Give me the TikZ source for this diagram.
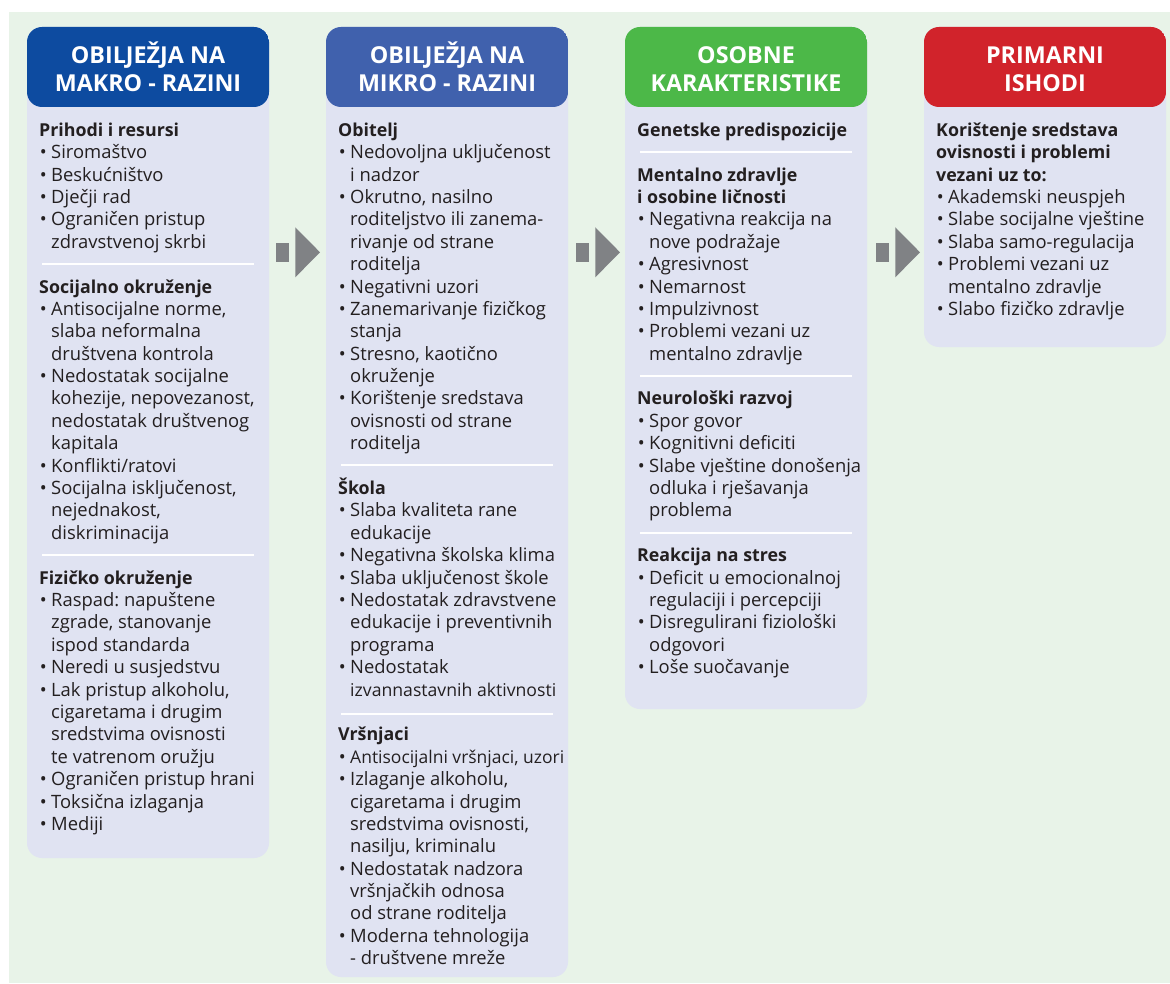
\documentclass[tikz,border=0pt]{standalone}
\usepackage{fontspec}
\setmainfont{Open Sans}
\frenchspacing
\definecolor{bgc}{HTML}{E8F3E8}
\definecolor{bodyc}{HTML}{E0E3F2}
\definecolor{hdA}{HTML}{0D4BA0}
\definecolor{hdB}{HTML}{4061AD}
\definecolor{hdC}{HTML}{4CB848}
\definecolor{hdD}{HTML}{D1232B}
\definecolor{arrc}{HTML}{808285}
\definecolor{txt}{HTML}{231F20}
\newcommand{\lineH}[4]{\node[lh] (#1) at (#2,{136.3+#3*22.39}) {#4};}
\newcommand{\lineB}[4]{\node[lt] (#1) at ({#2+12},{136.3+#3*22.39}) {\llap{•\hspace{4.5pt}}#4};}
\newcommand{\lineC}[4]{\node[lt] (#1) at ({#2+12},{136.3+#3*22.39}) {#4};}
\newcommand{\lineS}[2]{\draw[sepl] ({#1+3},{129.5+#2*22.39}) -- ({#1+215},{129.5+#2*22.39});}
\tikzset{
  colbox/.style={rectangle, rounded corners=15pt, fill=bodyc, inner sep=0pt, outer sep=0pt, minimum width=242pt},
  hdfill/.style={path picture={\fill[#1] (path picture bounding box.north west) rectangle ([yshift=-80pt]path picture bounding box.north east);}},
  hdtext/.style={anchor=base, inner sep=0pt, text=white, font=\fontsize{23.3}{28}\selectfont\bfseries},
  lh/.style={anchor=base west, inner sep=0pt, text=txt, font=\fontsize{17.8}{20}\selectfont\bfseries\frenchspacing},
  lt/.style={anchor=base west, inner sep=0pt, text=txt, font=\fontsize{18.4}{20}\selectfont\frenchspacing},
  sepl/.style={white, line width=2pt},
  arrw/.style={fill=arrc}
}
\begin{document}
\begin{tikzpicture}[x=1pt,y=-1pt]
\useasboundingbox (0,0) rectangle (1170,984);
\fill[bgc] (9,12) rectangle (1170,983);
% columns
\node[colbox, minimum height=831pt, hdfill=hdA] (K1) at (148,442.5) {};
\node[colbox, minimum height=950pt, hdfill=hdB] (K2) at (447,502) {};
\node[colbox, minimum height=682pt, hdfill=hdC] (K3) at (746,368) {};
\node[colbox, minimum height=320pt, hdfill=hdD] (K4) at (1045,187) {};
% headers
\node[hdtext] (H1a) at (148,64) {OBILJEŽJA NA};
\node[hdtext] (H1b) at (148,92) {MAKRO - RAZINI};
\node[hdtext] (H2a) at (447,64) {OBILJEŽJA NA};
\node[hdtext] (H2b) at (447,92) {MIKRO - RAZINI};
\node[hdtext] (H3a) at (746,64) {OSOBNE};
\node[hdtext] (H3b) at (746,92) {KARAKTERISTIKE};
\node[hdtext] (H4a) at (1045,64) {PRIMARNI};
\node[hdtext] (H4b) at (1045,92) {ISHODI};
% arrows
\foreach \dx in {0,300,600}{
  \fill[arrw] ({276+\dx},242.7) rectangle ({289+\dx},261.7);
  \fill[arrw] ({295.3+\dx},227.3) -- ({320+\dx},252.3) -- ({295.3+\dx},277.3) -- cycle;
}
% column 1
\lineH{a0}{39}{0}{Prihodi i resursi}
\lineB{a1}{39}{1}{Siromaštvo}
\lineB{a2}{39}{2}{Beskućništvo}
\lineB{a3}{39}{3}{Dječji rad}
\lineB{a4}{39}{4}{Ograničen pristup}
\lineC{a5}{39}{5}{zdravstvenoj skrbi}
\lineS{39}{6}
\lineH{a7}{39}{7}{Socijalno okruženje}
\lineB{a8}{39}{8}{Antisocijalne norme,}
\lineC{a9}{39}{9}{slaba neformalna}
\lineC{a10}{39}{10}{društvena kontrola}
\lineB{a11}{39}{11}{Nedostatak socijalne}
\lineC{a12}{39}{12}{kohezije, nepovezanost,}
\lineC{a13}{39}{13}{nedostatak društvenog}
\lineC{a14}{39}{14}{kapitala}
\lineB{a15}{39}{15}{Konflikti/ratovi}
\lineB{a16}{39}{16}{Socijalna isključenost,}
\lineC{a17}{39}{17}{nejednakost,}
\lineC{a18}{39}{18}{diskriminacija}
\lineS{39}{19}
\lineH{a20}{39}{20}{Fizičko okruženje}
\lineB{a21}{39}{21}{Raspad: napuštene}
\lineC{a22}{39}{22}{zgrade, stanovanje}
\lineC{a23}{39}{23}{ispod standarda}
\lineB{a24}{39}{24}{Neredi u susjedstvu}
\lineB{a25}{39}{25}{Lak pristup alkoholu,}
\lineC{a26}{39}{26}{cigaretama i drugim}
\lineC{a27}{39}{27}{sredstvima ovisnosti}
\lineC{a28}{39}{28}{te vatrenom oružju}
\lineB{a29}{39}{29}{Ograničen pristup hrani}
\lineB{a30}{39}{30}{Toksična izlaganja}
\lineB{a31}{39}{31}{Mediji}
% column 2
\lineH{b0}{338}{0}{Obitelj}
\lineB{b1}{338}{1}{Nedovoljna uključenost}
\lineC{b2}{338}{2}{i nadzor}
\lineB{b3}{338}{3}{Okrutno, nasilno}
\lineC{b4}{338}{4}{roditeljstvo ili zanema-}
\lineC{b5}{338}{5}{rivanje od strane}
\lineC{b6}{338}{6}{roditelja}
\lineB{b7}{338}{7}{Negativni uzori}
\lineB{b8}{338}{8}{Zanemarivanje fizičkog}
\lineC{b9}{338}{9}{stanja}
\lineB{b10}{338}{10}{Stresno, kaotično}
\lineC{b11}{338}{11}{okruženje}
\lineB{b12}{338}{12}{Korištenje sredstava}
\lineC{b13}{338}{13}{ovisnosti od strane}
\lineC{b14}{338}{14}{roditelja}
\lineS{338}{15}
\lineH{b16}{338}{16}{Škola}
\lineB{b17}{338}{17}{Slaba kvaliteta rane}
\lineC{b18}{338}{18}{edukacije}
\lineB{b19}{338}{19}{Negativna školska klima}
\lineB{b20}{338}{20}{Slaba uključenost škole}
\lineB{b21}{338}{21}{Nedostatak zdravstvene}
\lineC{b22}{338}{22}{edukacije i preventivnih}
\lineC{b23}{338}{23}{programa}
\lineB{b24}{338}{24}{Nedostatak}
\lineC{b25}{338}{25}{\resizebox{206pt}{!}{izvannastavnih aktivnosti}}
\lineS{338}{26.1}
\lineH{b27}{338}{27}{Vršnjaci}
\lineB{b28}{338}{28}{\resizebox{214pt}{!}{Antisocijalni vršnjaci, uzori}}
\lineB{b29}{338}{29}{Izlaganje alkoholu,}
\lineC{b30}{338}{30}{cigaretama i drugim}
\lineC{b31}{338}{31}{sredstvima ovisnosti,}
\lineC{b32}{338}{32}{nasilju, kriminalu}
\lineB{b33}{338}{33}{Nedostatak nadzora}
\lineC{b34}{338}{34}{vršnjačkih odnosa}
\lineC{b35}{338}{35}{od strane roditelja}
\lineB{b36}{338}{36}{Moderna tehnologija}
\lineC{b37}{338}{37}{- društvene mreže}
% column 3
\lineH{c0}{637}{0}{Genetske predispozicije}
\lineS{637}{1}
\lineH{c2}{637}{2}{Mentalno zdravlje}
\lineH{c3}{637}{3}{i osobine ličnosti}
\lineB{c4}{637}{4}{Negativna reakcija na}
\lineC{c5}{637}{5}{nove podražaje}
\lineB{c6}{637}{6}{Agresivnost}
\lineB{c7}{637}{7}{Nemarnost}
\lineB{c8}{637}{8}{Impulzivnost}
\lineB{c9}{637}{9}{Problemi vezani uz}
\lineC{c10}{637}{10}{mentalno zdravlje}
\lineS{637}{11}
\lineH{c12}{637}{12}{Neurološki razvoj}
\lineB{c13}{637}{13}{Spor govor}
\lineB{c14}{637}{14}{Kognitivni deficiti}
\lineB{c15}{637}{15}{Slabe vještine donošenja}
\lineC{c16}{637}{16}{odluka i rješavanja}
\lineC{c17}{637}{17}{problema}
\lineS{637}{18}
\lineH{c19}{637}{19}{Reakcija na stres}
\lineB{c20}{637}{20}{Deficit u emocionalnoj}
\lineC{c21}{637}{21}{regulaciji i percepciji}
\lineB{c22}{637}{22}{Disregulirani fiziološki}
\lineC{c23}{637}{23}{odgovori}
\lineB{c24}{637}{24}{Loše suočavanje}
% column 4
\lineH{d0}{936}{0}{Korištenje sredstava}
\lineH{d1}{936}{1}{ovisnosti i problemi}
\lineH{d2}{936}{2}{vezani uz to:}
\lineB{d3}{936}{3}{Akademski neuspjeh}
\lineB{d4}{936}{4}{Slabe socijalne vještine}
\lineB{d5}{936}{5}{Slaba samo-regulacija}
\lineB{d6}{936}{6}{Problemi vezani uz}
\lineC{d7}{936}{7}{mentalno zdravlje}
\lineB{d8}{936}{8}{Slabo fizičko zdravlje}
\end{tikzpicture}
\end{document}
